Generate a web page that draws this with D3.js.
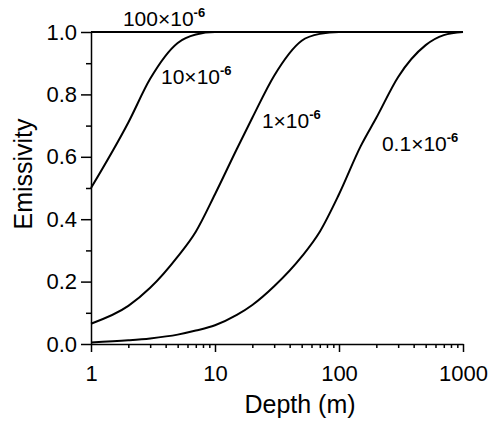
<!DOCTYPE html>
<html>
<head>
<meta charset="utf-8">
<script src="https://cdn.jsdelivr.net/npm/d3@7"></script>
<style>
  body { margin: 0; background: #fff; }
  text { font-family: "Liberation Sans", Arial, Helvetica, sans-serif; fill: #000; }
</style>
</head>
<body>
<svg id="chart" width="502" height="421"></svg>
<script>
// depth (m) values the curves were read at
const depths = [1, 2, 3, 5, 7, 10, 15, 20, 30, 50, 70, 100, 150, 200, 300, 500, 700, 1000];

// emissivity for each absorption coefficient
const e100 = [1, 1, 1, 1, 1, 1, 1, 1, 1, 1, 1, 1, 1, 1, 1, 1, 1, 1];
const e10 = [0.50, 0.71, 0.85, 0.965, 0.992, 1, 1, 1, 1, 1, 1, 1, 1, 1, 1, 1, 1, 1];
const e1 = [0.065, 0.122, 0.18, 0.28, 0.36, 0.48, 0.625, 0.725, 0.86, 0.972, 0.994, 1, 1, 1, 1, 1, 1, 1];
const e01 = [0.005, 0.012, 0.018, 0.03, 0.043, 0.06, 0.093, 0.125, 0.185, 0.28, 0.36, 0.48, 0.635, 0.725, 0.856, 0.958, 0.99, 1];

const seriesNames = ["100×10", "10×10", "1×10", "0.1×10"];
// label anchors in data units (depth, emissivity)
const labelDepth = [1.81, 3.67, 23.9, 222];
const labelValue = [1.019, 0.833, 0.692, 0.619];

const xMajor = [1, 10, 100, 1000];
const yMajor = [0, 0.2, 0.4, 0.6, 0.8, 1.0];
const yMinor = [0.1, 0.3, 0.5, 0.7, 0.9];

const svg = d3.select("#chart");
const x = d3.scaleLog().domain([1, 1000]).range([91, 463]);
const y = d3.scaleLinear().domain([0, 1]).range([344, 32]);

const xMinor = [];
[1, 10, 100].forEach(function(d) {
    for (let k = 2; k <= 9; k++) xMinor.push(d * k);
});

// x axis
svg.append("g")
    .attr("transform", "translate(0," + y(0) + ")")
    .call(d3.axisBottom(x).tickValues(xMinor).tickSize(4).tickFormat(""))
    .call(g => g.select(".domain").remove());
const gx = svg.append("g")
    .attr("transform", "translate(0," + y(0) + ")")
    .call(d3.axisBottom(x).tickValues(xMajor).tickSize(8).tickSizeOuter(0).tickPadding(13).tickFormat(d3.format("d")));
gx.selectAll("text").style("font-size", "22px");

// y axis
svg.append("g")
    .attr("transform", "translate(" + x(1) + ",0)")
    .call(d3.axisLeft(y).tickValues(yMinor).tickSize(5).tickFormat(""))
    .call(g => g.select(".domain").remove());
const gy = svg.append("g")
    .attr("transform", "translate(" + x(1) + ",0)")
    .call(d3.axisLeft(y).tickValues(yMajor).tickSize(10).tickSizeOuter(0).tickPadding(4).tickFormat(d3.format(".1f")));
gy.selectAll("text").style("font-size", "22px");

svg.selectAll(".domain, .tick line").attr("stroke", "#000").attr("stroke-width", 1.5);

// curves
const line = d3.line()
    .x((d, i) => x(depths[i]))
    .y(d => y(d))
    .curve(d3.curveMonotoneX);

svg.selectAll("path.curve")
    .data([e100, e10, e1, e01])
    .enter()
    .append("path")
    .attr("class", "curve")
    .attr("fill", "none")
    .attr("stroke", "#000")
    .attr("stroke-width", 2)
    .attr("d", line);

// curve labels
const labels = svg.selectAll("text.lbl")
    .data(seriesNames)
    .enter()
    .append("text")
    .attr("class", "lbl")
    .attr("x", (d, i) => x(labelDepth[i]))
    .attr("y", (d, i) => y(labelValue[i]))
    .style("font-size", "21px")
    .text(d => d);
labels.append("tspan")
    .attr("dy", -9)
    .style("font-size", "13px")
    .style("font-weight", "bold")
    .text("-6");

// axis titles
svg.append("text")
    .attr("x", 300)
    .attr("y", 413)
    .attr("text-anchor", "middle")
    .style("font-size", "25px")
    .text("Depth (m)");

svg.append("text")
    .attr("transform", "translate(32,174) rotate(-90)")
    .attr("text-anchor", "middle")
    .style("font-size", "25px")
    .text("Emissivity");
</script>
</body>
</html>
